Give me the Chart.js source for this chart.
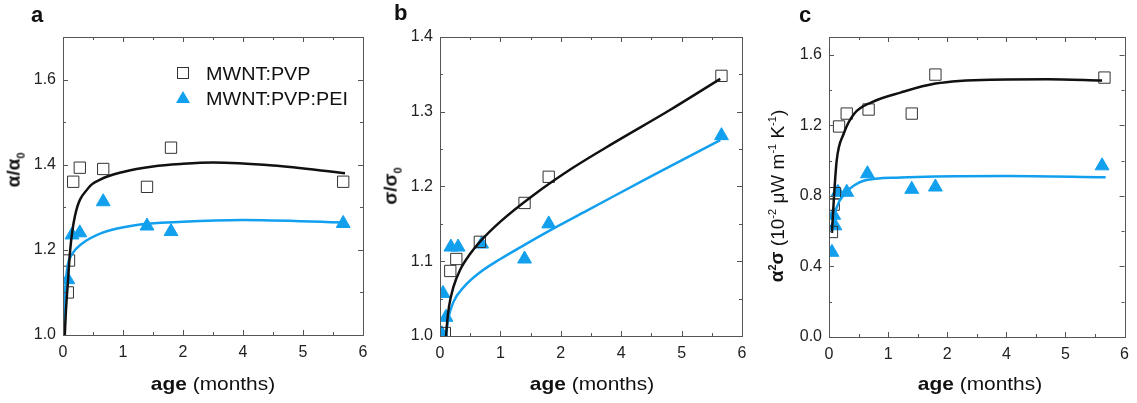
<!DOCTYPE html>
<html>
<head>
<meta charset="utf-8">
<script src="https://cdn.jsdelivr.net/npm/chart.js@4.4.0/dist/chart.umd.min.js"></script>
<style>
  body { margin: 0; background: #fff; width: 1137px; height: 403px; position: relative; overflow: hidden;
         font-family: "Liberation Sans", Arial, sans-serif; color: #111; }
  .panel { position: absolute; top: 0; height: 403px; }
  .lett { position: absolute; font-weight: bold; font-size: 22px; line-height: 1; }
  .xt { position: absolute; font-size: 19px; white-space: nowrap; line-height: 1; transform: translateX(-50%) scaleX(1.1); }
  .yt { position: absolute; font-size: 19px; white-space: nowrap; line-height: 1; transform: translate(-50%, -50%) rotate(-90deg); }
  .yt sub, .yt sup { font-size: 11px; }
  .leg { position: absolute; font-size: 18px; white-space: nowrap; line-height: 1; transform-origin: left center; transform: translateY(-50%) scaleX(1.1); }
  .sq { position: absolute; width: 10px; height: 10px; border: 1px solid #333; }
  .tri { position: absolute; width: 0; height: 0; border-left: 7px solid transparent; border-right: 7px solid transparent; border-bottom: 12px solid #12A0EE; }
</style>
</head>
<body>
<div class="panel" style="left:0;width:380px"><canvas id="chartA"></canvas></div>
<div class="panel" style="left:380px;width:380px"><canvas id="chartB"></canvas></div>
<div class="panel" style="left:760px;width:377px"><canvas id="chartC"></canvas></div>

<div class="lett" style="left:31px;top:4px">a</div>
<div class="lett" style="left:394px;top:2px">b</div>
<div class="lett" style="left:799px;top:4px">c</div>

<div class="yt" style="left:15px;top:170px"><b>α/α<sub>0</sub></b></div>
<div class="yt" style="left:392px;top:186px"><b>σ/σ<sub>0</sub></b></div>
<div class="yt" style="left:777px;top:196px"><b>α<sup>2</sup>σ</b> (10<sup>-2</sup> μW m<sup>-1</sup> K<sup>-1</sup>)</div>

<div class="xt" style="left:213px;top:374px"><b>age</b> (months)</div>
<div class="xt" style="left:592px;top:374px"><b>age</b> (months)</div>
<div class="xt" style="left:980px;top:374px"><b>age</b> (months)</div>

<div class="sq" style="left:177px;top:67px"></div>
<div class="leg" style="left:206px;top:74px">MWNT:PVP</div>
<div class="tri" style="left:176px;top:91px"></div>
<div class="leg" style="left:206px;top:99px">MWNT:PVP:PEI</div>

<script>
// x axis: evenly spaced ticks, labelled as in the figure
const xTickLabels = ['0', '1', '2', '4', '5', '6'];

// panel a: alpha / alpha0
const aPvpX = [0.08, 0.1, 0.17, 0.28, 0.67, 1.4, 1.8, 4.67];
const aPvpY = [1.10, 1.175, 1.36, 1.393, 1.39, 1.348, 1.44, 1.36];
const aPeiX = [0.08, 0.15, 0.28, 0.67, 1.4, 1.8, 4.67];
const aPeiY = [1.13, 1.235, 1.24, 1.313, 1.256, 1.243, 1.262];
const aFitPvpX = [0.03, 0.05, 0.08, 0.12, 0.2, 0.42, 0.62, 1.0, 1.5, 2.0, 2.5, 3.5, 4.7];
const aFitPvpY = [1.0, 1.06, 1.12, 1.2, 1.28, 1.345, 1.365, 1.383, 1.396, 1.402, 1.405, 1.398, 1.38];
const aFitPeiX = [0.0, 0.02, 0.05, 0.08, 0.15, 0.32, 0.65, 1.2, 2.0, 3.0, 4.7];
const aFitPeiY = [1.0, 1.07, 1.13, 1.165, 1.19, 1.215, 1.24, 1.258, 1.266, 1.27, 1.264];
const aYTicks = [1.0, 1.2, 1.4, 1.6];

// panel b: sigma / sigma0
const bPvpX = [0.08, 0.17, 0.27, 0.66, 1.4, 1.8, 4.66];
const bPvpY = [1.004, 1.087, 1.103, 1.126, 1.178, 1.213, 1.348];
const bPeiX = [0.03, 0.05, 0.1, 0.18, 0.3, 0.69, 1.4, 1.8, 4.66];
const bPeiY = [1.003, 1.057, 1.025, 1.119, 1.119, 1.123, 1.103, 1.15, 1.268];
const bFitPvpX = [0.1, 0.12, 0.15, 0.22, 0.33, 0.5, 0.66, 1.0, 1.54, 2.2, 2.87, 3.8, 4.64];
const bFitPvpY = [1.0, 1.02, 1.04, 1.065, 1.088, 1.11, 1.126, 1.153, 1.188, 1.225, 1.258, 1.302, 1.344];
const bFitPeiX = [0.1, 0.13, 0.22, 0.4, 0.66, 1.0, 1.4, 1.77, 2.44, 3.5, 4.64];
const bFitPeiY = [1.0, 1.02, 1.045, 1.066, 1.085, 1.103, 1.122, 1.139, 1.168, 1.214, 1.262];
const bYTicks = [1.0, 1.1, 1.2, 1.3, 1.4];

// panel c: power factor
const cPvpX = [0.05, 0.08, 0.1, 0.17, 0.3, 0.67, 1.4, 1.8, 4.66];
const cPvpY = [0.595, 0.75, 0.815, 1.193, 1.266, 1.289, 1.266, 1.487, 1.47];
const cPeiX = [0.05, 0.08, 0.1, 0.15, 0.3, 0.65, 1.4, 1.8, 4.62];
const cPeiY = [0.48, 0.69, 0.63, 0.82, 0.82, 0.925, 0.837, 0.85, 0.97];
const cFitPvpX = [0.05, 0.08, 0.13, 0.25, 0.43, 0.72, 1.21, 1.8, 2.73, 3.7, 4.62];
const cFitPvpY = [0.59, 0.77, 1.0, 1.153, 1.266, 1.33, 1.385, 1.436, 1.458, 1.46, 1.453];
const cFitPeiX = [0.05, 0.13, 0.27, 0.43, 0.6, 1.21, 1.8, 3.0, 4.68];
const cFitPeiY = [0.62, 0.735, 0.814, 0.86, 0.887, 0.904, 0.91, 0.912, 0.905];
const cYTicks = [0.0, 0.4, 0.8, 1.2, 1.6];

const BLUE = '#12A0EE';
const pts = (xs, ys) => xs.map((x, i) => ({ x: x, y: ys[i] }));

// inward ticks on all four sides + box frame
const frameTicks = {
  id: 'frameTicks',
  afterDraw(chart, args, opts) {
    const { ctx, chartArea: a, scales: { x, y } } = chart;
    ctx.save();
    ctx.strokeStyle = '#555';
    ctx.lineWidth = 1;
    ctx.strokeRect(Math.round(a.left) + 0.5, Math.round(a.top) + 0.5,
                   Math.round(a.right - a.left), Math.round(a.bottom - a.top));
    ctx.beginPath();
    for (let v = x.min; v <= x.max + 1e-9; v += 0.5) {
      const px = Math.round(x.getPixelForValue(v)) + 0.5;
      const len = Math.abs(v - Math.round(v)) < 1e-6 ? 5 : 3;
      ctx.moveTo(px, a.bottom); ctx.lineTo(px, a.bottom - len);
      ctx.moveTo(px, a.top); ctx.lineTo(px, a.top + len);
    }
    for (let v = y.min; v <= y.max + 1e-9; v += opts.yMinor) {
      const py = Math.round(y.getPixelForValue(v)) + 0.5;
      const len = opts.yMajor.some(m => Math.abs(m - v) < 1e-6) ? 5 : 3;
      ctx.moveTo(a.left, py); ctx.lineTo(a.left + len, py);
      ctx.moveTo(a.right, py); ctx.lineTo(a.right - len, py);
    }
    ctx.stroke();
    ctx.restore();
  }
};

function makePanel(id, cfg) {
  const canvas = document.getElementById(id);
  canvas.width = cfg.width;
  canvas.height = 403;
  canvas.style.width = cfg.width + 'px';
  canvas.style.height = '403px';
  new Chart(canvas.getContext('2d'), {
    type: 'scatter',
    data: {
      datasets: [
        { type: 'line', data: pts(cfg.fitPvpX, cfg.fitPvpY), borderColor: '#111', borderWidth: 2.5,
          pointRadius: 0, cubicInterpolationMode: 'monotone', fill: false },
        { type: 'line', data: pts(cfg.fitPeiX, cfg.fitPeiY), borderColor: BLUE, borderWidth: 2.5,
          pointRadius: 0, cubicInterpolationMode: 'monotone', fill: false },
        { label: 'MWNT:PVP', data: pts(cfg.pvpX, cfg.pvpY), pointStyle: 'rect', pointRadius: 8,
          backgroundColor: 'rgba(255,255,255,0)', borderColor: '#333', borderWidth: 1 },
        { label: 'MWNT:PVP:PEI', data: pts(cfg.peiX, cfg.peiY), pointStyle: 'triangle', pointRadius: 8,
          backgroundColor: BLUE, borderColor: BLUE, borderWidth: 1 }
      ]
    },
    options: {
      responsive: false,
      animation: false,
      layout: { padding: { left: 0, right: cfg.padRight, top: 37, bottom: 0 } },
      plugins: {
        legend: { display: false },
        tooltip: { enabled: false },
        frameTicks: { yMinor: cfg.yMinor, yMajor: cfg.yTicks }
      },
      scales: {
        x: {
          type: 'linear', min: 0, max: 5,
          grid: { display: false, drawTicks: false },
          border: { display: false },
          ticks: {
            stepSize: 1, padding: 8, color: '#222',
            font: { family: 'Liberation Sans', size: 16 },
            callback: v => xTickLabels[Math.round(v)]
          },
          afterFit: s => { s.height = cfg.xAxisH; }
        },
        y: {
          type: 'linear', min: cfg.yMin, max: cfg.yMax,
          grid: { display: false, drawTicks: false },
          border: { display: false },
          afterBuildTicks: s => { s.ticks = cfg.yTicks.map(v => ({ value: v })); },
          ticks: {
            padding: 7, color: '#222',
            font: { family: 'Liberation Sans', size: 16 },
            callback: v => v.toFixed(1)
          },
          afterFit: s => { s.width = cfg.yAxisW; }
        }
      }
    },
    plugins: [frameTicks]
  });
}

makePanel('chartA', {
  width: 380, padRight: 17, yAxisW: 63, xAxisH: 68,
  yMin: 1.0, yMax: 1.7, yTicks: aYTicks, yMinor: 0.1,
  pvpX: aPvpX, pvpY: aPvpY, peiX: aPeiX, peiY: aPeiY,
  fitPvpX: aFitPvpX, fitPvpY: aFitPvpY, fitPeiX: aFitPeiX, fitPeiY: aFitPeiY
});
makePanel('chartB', {
  width: 380, padRight: 18, yAxisW: 60, xAxisH: 67,
  yMin: 1.0, yMax: 1.4, yTicks: bYTicks, yMinor: 0.05,
  pvpX: bPvpX, pvpY: bPvpY, peiX: bPeiX, peiY: bPeiY,
  fitPvpX: bFitPvpX, fitPvpY: bFitPvpY, fitPeiX: bFitPeiX, fitPeiY: bFitPeiY
});
makePanel('chartC', {
  width: 377, padRight: 7, yAxisW: 69, xAxisH: 66,
  yMin: 0.0, yMax: 1.7, yTicks: cYTicks, yMinor: 0.2,
  pvpX: cPvpX, pvpY: cPvpY, peiX: cPeiX, peiY: cPeiY,
  fitPvpX: cFitPvpX, fitPvpY: cFitPvpY, fitPeiX: cFitPeiX, fitPeiY: cFitPeiY
});
</script>
</body>
</html>
